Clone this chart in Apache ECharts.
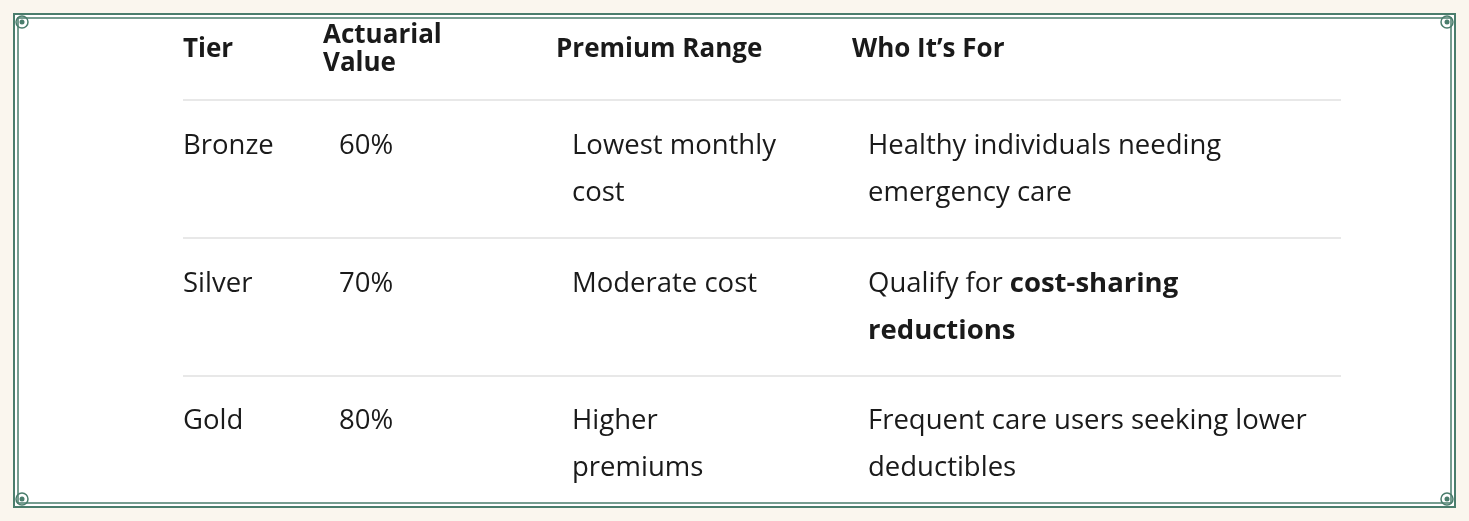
<!DOCTYPE html>
<html><head><meta charset="utf-8">
<script src="https://cdn.jsdelivr.net/npm/echarts@6/dist/echarts.min.js"></script>
<style>html,body{margin:0;background:#faf6ee}#c{width:1469px;height:521px}</style>
</head><body><div id="c"></div>
<script>
var headers = [['Tier'], ['Actuarial', 'Value'], ['Premium Range'], ['Who It\u2019s For']];
var tiers = ['Bronze', 'Silver', 'Gold'];
var values = ['60%', '70%', '80%'];
var premiums = [['Lowest monthly', 'cost'], ['Moderate cost'], ['Higher', 'premiums']];
var whoFor = [['Healthy individuals needing', 'emergency care'],
              ['Qualify for {b|cost-sharing}', '{b|reductions}'],
              ['Frequent care users seeking lower', 'deductibles']];

var headX = [183, 323, 556, 852];
var bodyX = [183, 339, 572, 868];
var rowY = [146, 284, 421];
var font = '"Open Sans", "Noto Sans", sans-serif';
var els = [];
var green = '#4a7d6c';

els.push({type: 'rect', shape: {x: 14, y: 14, width: 1441, height: 493}, style: {fill: '#fff', stroke: green, lineWidth: 2}});
els.push({type: 'rect', shape: {x: 18, y: 18, width: 1433, height: 485}, style: {fill: 'none', stroke: green, lineWidth: 1.5}});
[[22, 22], [1447, 22], [22, 499], [1447, 499]].forEach(function (p) {
    els.push({type: 'circle', shape: {cx: p[0], cy: p[1], r: 6}, style: {fill: 'none', stroke: green, lineWidth: 1.5}});
    els.push({type: 'circle', shape: {cx: p[0], cy: p[1], r: 2.5}, style: {fill: green}});
});

// y is the centre of the first line
function txt(x, y, lines, bold, size, lh) {
    els.push({type: 'text', x: x, y: y - lh / 2, style: {
        text: lines.join('\n'), font: (bold ? 'bold ' : '') + size + 'px ' + font,
        fill: '#1a1a1a', lineHeight: lh, verticalAlign: 'top',
        rich: {b: {fontWeight: 'bold', fontSize: size, fontFamily: font, fill: '#1a1a1a', lineHeight: lh}}
    }});
}

headers.forEach(function (h, i) {
    txt(headX[i], h.length > 1 ? 36 : 50, h, true, 26, 28);
});
[100, 238, 376].forEach(function (y) {
    els.push({type: 'line', shape: {x1: 183, y1: y, x2: 1341, y2: y}, style: {stroke: '#e0e0e0', lineWidth: 1.5}});
});
tiers.forEach(function (t, i) {
    var y = rowY[i];
    txt(bodyX[0], y, [t], false, 27.5, 47);
    txt(bodyX[1], y, [values[i]], false, 27.5, 47);
    txt(bodyX[2], y, premiums[i], false, 27.5, 47);
    txt(bodyX[3], y, whoFor[i], false, 27.5, 47);
});

var chart = echarts.init(document.getElementById('c'));
chart.setOption({graphic: {elements: els}});
</script></body></html>
